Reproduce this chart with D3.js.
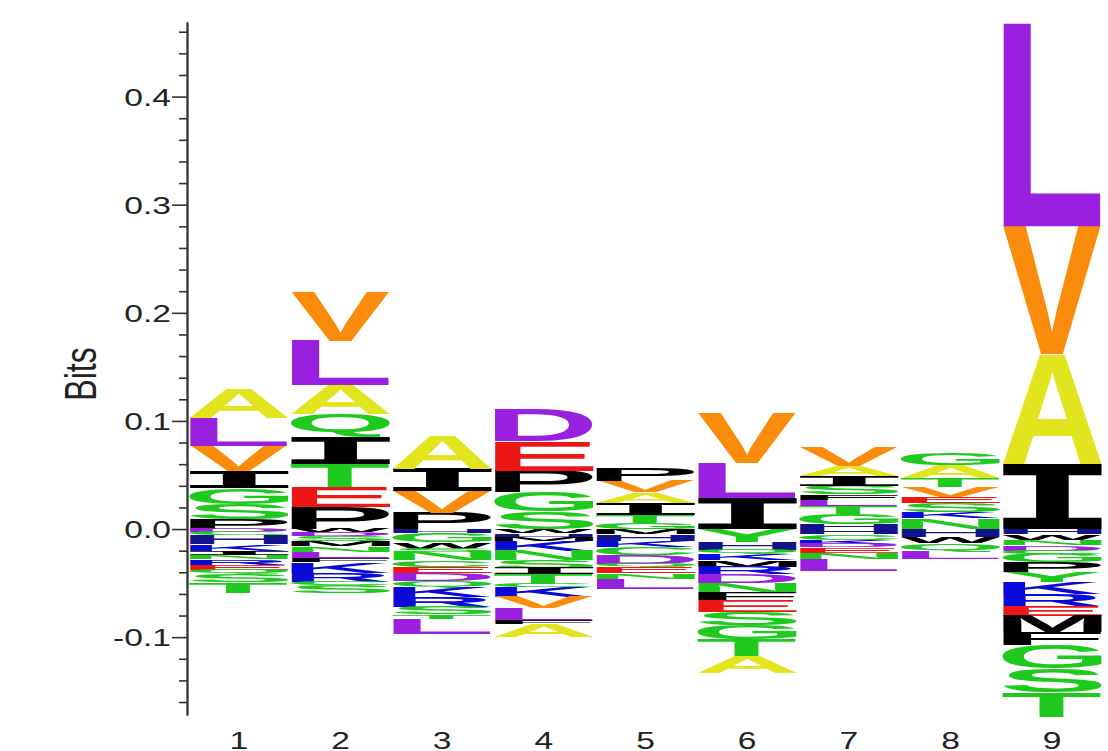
<!DOCTYPE html>
<html>
<head>
<meta charset="utf-8">
<script src="https://cdn.jsdelivr.net/npm/d3@7"></script>
<style>
  body { margin: 0; background: #fff; }
  svg { display: block; }
</style>
</head>
<body>
<div id="chart"></div>
<script>
// positions along the sequence
const positions = ['1', '2', '3', '4', '5', '6', '7', '8', '9'];

// y ticks
const majorTicks = [-0.1, 0.0, 0.1, 0.2, 0.3, 0.4];

// letters above zero, from the baseline upward  [residue, bits]
const up1 = [['P', 0.009], ['S', 0.014], ['G', 0.015], ['I', 0.016], ['V', 0.023], ['L', 0.026], ['A', 0.028]];
const up2 = [['P', 0.020], ['E', 0.019], ['T', 0.021], ['I', 0.025], ['Q', 0.021], ['A', 0.027], ['L', 0.041], ['V', 0.045]];
const up3 = [['P', 0.015], ['V', 0.020], ['I', 0.021], ['A', 0.031]];
const up4 = [['S', 0.016], ['G', 0.018], ['P', 0.020], ['E', 0.027], ['D', 0.030]];
const up5 = [['G', 0.006], ['T', 0.007], ['I', 0.011], ['A', 0.010], ['V', 0.010], ['P', 0.012]];
const up6 = [['I', 0.029], ['L', 0.032], ['V', 0.046]];
const up7 = [['H', 0.005], ['G', 0.009], ['T', 0.007], ['L', 0.006], ['F', 0.005], ['S', 0.008], ['I', 0.009], ['A', 0.009], ['V', 0.018]];
const up8 = [['N', 0.010], ['K', 0.006], ['S', 0.008], ['E', 0.006], ['V', 0.009], ['T', 0.008], ['A', 0.012], ['G', 0.011]];
const up9 = [['I', 0.060], ['A', 0.102], ['V', 0.118], ['L', 0.188]];

// letters below zero, from the baseline downward  [residue, bits]
const down1 = [['D', 0.003], ['C', 0.003], ['H', 0.008], ['K', 0.006], ['I', 0.004], ['N', 0.004], ['R', 0.005], ['E', 0.005], ['Q', 0.004], ['S', 0.007], ['T', 0.010]];
const down2 = [['W', 0.003], ['D', 0.003], ['S', 0.005], ['M', 0.005], ['N', 0.005], ['L', 0.006], ['F', 0.004], ['K', 0.010], ['R', 0.008], ['C', 0.003], ['S', 0.007]];
const down3 = [['H', 0.004], ['G', 0.008], ['W', 0.006], ['S', 0.003], ['N', 0.008], ['C', 0.006], ['E', 0.006], ['D', 0.007], ['Q', 0.006], ['K', 0.009], ['R', 0.009], ['S', 0.007], ['T', 0.004], ['L', 0.014]];
const down4 = [['W', 0.004], ['H', 0.004], ['M', 0.003], ['K', 0.009], ['N', 0.009], ['S', 0.007], ['I', 0.006], ['T', 0.009], ['C', 0.003], ['K', 0.009], ['V', 0.010], ['L', 0.012], ['F', 0.003], ['A', 0.012]];
const down5 = [['M', 0.005], ['H', 0.006], ['K', 0.006], ['C', 0.007], ['D', 0.008], ['Q', 0.003], ['E', 0.006], ['N', 0.005], ['L', 0.009]];
const down6 = [['Y', 0.012], ['H', 0.007], ['Q', 0.004], ['K', 0.006], ['M', 0.006], ['R', 0.007], ['D', 0.008], ['N', 0.009], ['F', 0.007], ['E', 0.011], ['S', 0.012], ['G', 0.013], ['T', 0.015], ['A', 0.016]];
const down7 = [['H', 0.005], ['C', 0.005], ['K', 0.004], ['D', 0.003], ['E', 0.005], ['N', 0.006], ['L', 0.011]];
const down8 = [['H', 0.007], ['W', 0.006], ['Q', 0.008], ['L', 0.007]];
const down9 = [['H', 0.005], ['W', 0.005], ['N', 0.005], ['D', 0.005], ['C', 0.003], ['G', 0.008], ['P', 0.009], ['Y', 0.009], ['K', 0.011], ['R', 0.011], ['E', 0.009], ['M', 0.015], ['F', 0.012], ['G', 0.022], ['S', 0.022], ['T', 0.023]];

const ups = [up1, up2, up3, up4, up5, up6, up7, up8, up9];
const downs = [down1, down2, down3, down4, down5, down6, down7, down8, down9];

const letterColors = {
  A: '#e2e41e', V: '#fb8c0b', L: '#9a20e0', D: '#9a20e0',
  I: '#000000', P: '#000000', M: '#000000', F: '#000000', W: '#000000',
  G: '#1fca1f', S: '#1fca1f', T: '#1fca1f', Q: '#1fca1f', N: '#1fca1f', C: '#1fca1f', Y: '#1fca1f',
  E: '#ee1515', K: '#0a0ad8', R: '#0a0ad8', H: '#14148a'
};

const W = 1108, H = 751;
const stretch = 1.4; // the reference text is drawn wide

const svg = d3.select('#chart')
  .append('svg')
  .attr('width', W)
  .attr('height', H);

const x = d3.scaleBand()
  .domain(positions)
  .range([189, 1102])
  .paddingInner(0.02);

const y = d3.scaleLinear()
  .domain([-0.172, 0.469])
  .range([715, 22]);

// tight glyph bounds, measured on a canvas
const ctx = document.createElement('canvas').getContext('2d');
const fontFor = ch => ch === 'I' ? '"DejaVu Sans Mono", monospace' : '"Liberation Sans", Arial, sans-serif';
const boxCache = {};
function glyphBox(ch) {
  if (!boxCache[ch]) {
    ctx.font = 'bold 100px ' + fontFor(ch);
    const m = ctx.measureText(ch);
    boxCache[ch] = {
      left: m.actualBoundingBoxLeft,
      w: m.actualBoundingBoxLeft + m.actualBoundingBoxRight,
      asc: m.actualBoundingBoxAscent,
      h: m.actualBoundingBoxAscent + m.actualBoundingBoxDescent
    };
  }
  return boxCache[ch];
}

const logo = svg.append('g');

function drawLetter(ch, x0, y0, w, h) {
  if (h <= 0) return;
  const b = glyphBox(ch);
  logo.append('text')
    .text(ch)
    .attr('font-family', fontFor(ch))
    .attr('font-weight', 'bold')
    .attr('font-size', 100)
    .attr('fill', letterColors[ch])
    .attr('transform', `translate(${x0},${y0}) scale(${w / b.w},${h / b.h}) translate(${b.left},${b.asc})`);
}

positions.forEach((p, i) => {
  const x0 = x(p), w = x.bandwidth();
  let cum = 0;
  ups[i].forEach(([ch, v]) => {
    drawLetter(ch, x0, y(cum + v), w, y(cum) - y(cum + v));
    cum += v;
  });
  cum = 0;
  downs[i].forEach(([ch, v]) => {
    drawLetter(ch, x0, y(cum), w, y(cum - v) - y(cum));
    cum -= v;
  });
});

// y axis
const axisX = 187;
const minorTicks = d3.range(-8, 24).filter(i => i % 5 !== 0).map(i => i * 0.02);

svg.append('g')
  .attr('transform', `translate(${axisX},0)`)
  .call(d3.axisLeft(y).tickValues(minorTicks).tickSize(8).tickSizeOuter(0).tickFormat(''))
  .call(g => g.selectAll('line, path').attr('stroke', '#333').attr('stroke-width', 1.6));

const yAxis = svg.append('g')
  .attr('transform', `translate(${axisX},0)`)
  .call(d3.axisLeft(y).tickValues(majorTicks).tickSize(15).tickSizeOuter(0).tickPadding(2).tickFormat(d => d.toFixed(1)));

yAxis.select('.domain').attr('stroke', '#333').attr('stroke-width', 2);
yAxis.selectAll('.tick line').attr('stroke', '#333').attr('stroke-width', 1.6);
yAxis.selectAll('.tick text')
  .attr('font-family', '"Liberation Sans", Arial, sans-serif')
  .attr('font-size', 24)
  .attr('fill', '#222')
  .attr('x', null)
  .attr('dy', '0.36em')
  .attr('transform', `translate(-16,0) scale(${stretch},1)`);

// axis title
svg.append('text')
  .text('Bits')
  .attr('font-family', '"Liberation Sans", Arial, sans-serif')
  .attr('font-size', 32)
  .attr('fill', '#222')
  .attr('text-anchor', 'middle')
  .attr('dy', '0.36em')
  .attr('transform', `translate(80,374) scale(${stretch},1) rotate(-90)`);

// position labels
svg.append('g')
  .selectAll('text')
  .data(positions)
  .join('text')
  .text(d => d)
  .attr('font-family', '"Liberation Sans", Arial, sans-serif')
  .attr('font-size', 24)
  .attr('fill', '#222')
  .attr('text-anchor', 'middle')
  .attr('transform', d => `translate(${x(d) + x.bandwidth() / 2},749) scale(${stretch},1)`);
</script>
</body>
</html>
